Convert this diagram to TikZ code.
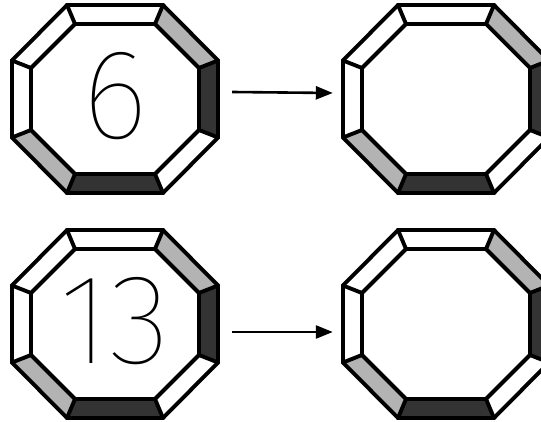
\documentclass[tikz,border=0pt]{standalone}
\usepackage{fontspec}
\usepackage{xcolor}
\usepackage{tikz}
\usetikzlibrary{arrows.meta,calc,positioning}
\IfFontExistsTF{Fira Sans Thin}{\newfontfamily\digitfont{Fira Sans Thin}}{%
\IfFontExistsTF{Fira Sans ExtraLight}{\newfontfamily\digitfont{Fira Sans ExtraLight}}{%
\IfFontExistsTF{Fira Sans Light}{\newfontfamily\digitfont{Fira Sans Light}}{%
\IfFontExistsTF{Noto Sans Light}{\newfontfamily\digitfont{Noto Sans Light}}{%
\IfFontExistsTF{DejaVu Sans ExtraLight}{\newfontfamily\digitfont{DejaVu Sans ExtraLight}}{%
\newfontfamily\digitfont{Liberation Sans}}}}}}
\definecolor{facelight}{HTML}{B3B3B3}
\definecolor{facedark}{HTML}{333333}

\tikzset{
	gemline/.style={line width=3.9pt,line join=miter},
	gembox/.style={minimum width=206pt,minimum height=188pt,inner sep=0pt},
	gemtext/.style={font=\digitfont\fontsize{128}{128}\selectfont,inner sep=0pt},
	arrowline/.style={line width=2.6pt,-{Triangle[length=17pt,width=13pt]}}
}

% one octagonal gem: centre, name, number
\newcommand{\gem}[3]{%
	\node[gembox] (#2) at (#1) {};
	\begin{scope}[shift={(#1)}]
		\foreach \k/\px/\py in {1/-48/-94,2/48/-94,3/103/-38.5,4/103/38.5,5/48/94,6/-48/94,7/-103/38.5,8/-103/-38.5}
			\coordinate (#2-o\k) at (\px,\py);
		\foreach \k/\px/\py in {1/-40/-75,2/40/-75,3/84/-31,4/84/31,5/40/75,6/-40/75,7/-84/31,8/-84/-31}
			\coordinate (#2-i\k) at (\px,\py);
	\end{scope}
	\foreach \k/\c in {1/white,2/facelight,3/facedark,4/white,5/facedark,6/facelight,7/white,8/white}{
		\pgfmathtruncatemacro\n{mod(\k,8)+1}
		\fill[\c] (#2-o\k) -- (#2-o\n) -- (#2-i\n) -- (#2-i\k) -- cycle;
	}
	\draw[gemline] (#2-o1) -- (#2-o2) -- (#2-o3) -- (#2-o4) -- (#2-o5) -- (#2-o6) -- (#2-o7) -- (#2-o8) -- cycle;
	\draw[gemline] (#2-i1) -- (#2-i2) -- (#2-i3) -- (#2-i4) -- (#2-i5) -- (#2-i6) -- (#2-i7) -- (#2-i8) -- cycle;
	\foreach \k in {1,...,8}
		\draw[gemline] (#2-o\k) -- (#2-i\k);
	\node[gemtext] (#2-num) at ($(#1)+(0,-3)$) {#3};
}

\begin{document}
\begin{tikzpicture}[x=1pt,y=-1pt]
	\useasboundingbox (0,0) rectangle (541,422);
	\clip (0,0) rectangle (541,422);
	\gem{115,99}{topleft}{6}
	\gem{446,99}{topright}{}
	\gem{115,324}{botleft}{13}
	\gem{446,324}{botright}{}
	\draw[arrowline] ([xshift=14pt,yshift=7pt]topleft.east) -- ([xshift=-10pt,yshift=6pt]topright.west);
	\draw[arrowline] ([xshift=14pt,yshift=-8pt]botleft.east) -- ([xshift=-10pt,yshift=-8pt]botright.west);
\end{tikzpicture}
\end{document}
